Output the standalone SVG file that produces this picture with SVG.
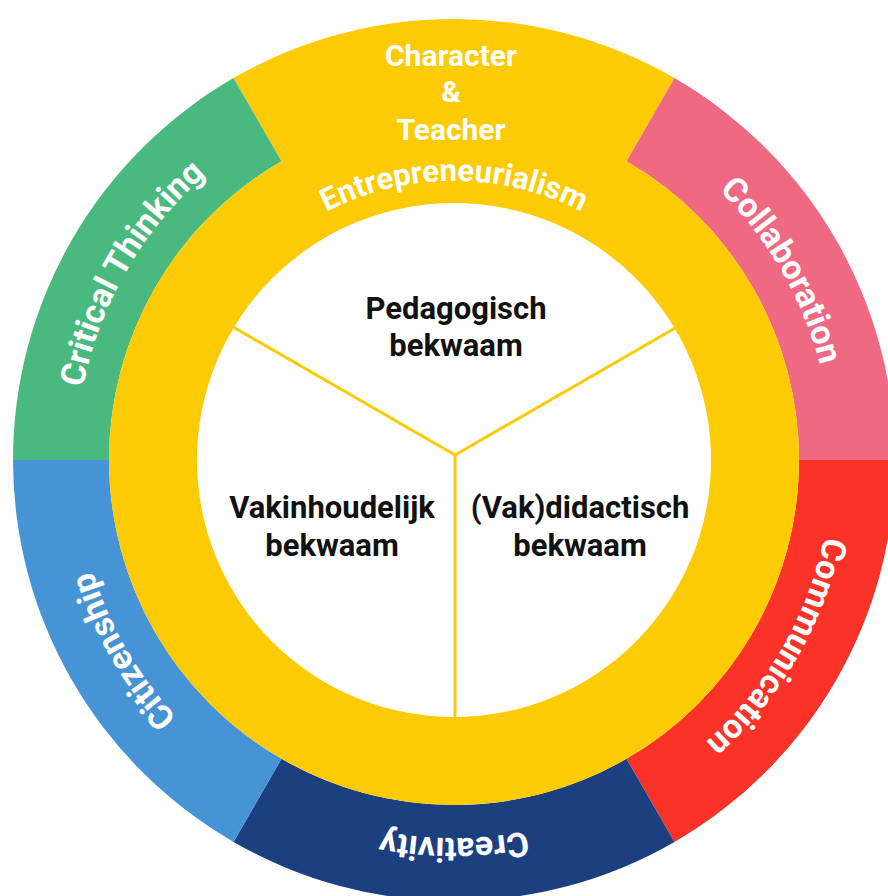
<svg xmlns="http://www.w3.org/2000/svg" width="888" height="896" viewBox="0 0 888 896">
  <style>
    .seg-label { font-family: Roboto, "Liberation Sans", Arial, sans-serif; font-weight: 700; font-size: 34px; fill: #ffffff; }
    .top-label { font-family: Roboto, "Liberation Sans", Arial, sans-serif; font-weight: 700; font-size: 30px; fill: #ffffff; text-anchor: middle; }
    .entre-label { font-family: Roboto, "Liberation Sans", Arial, sans-serif; font-weight: 700; font-size: 31px; fill: #ffffff; }
    .inner-label { font-family: Roboto, "Liberation Sans", Arial, sans-serif; font-weight: 700; font-size: 31px; fill: #111111; text-anchor: middle; }
    .divider { stroke: #FCCB04; stroke-width: 3; fill: none; }
  </style>
  <defs>
    <path id="arc-critical" d="M 211.0 749.6 A 378 378 0 0 1 583.3 104.8"/>
    <path id="arc-collab" d="M 324.7 104.8 A 378 378 0 0 1 697.0 749.6"/>
    <path id="arc-comm" d="M 697.0 170.4 A 378 378 0 0 1 324.7 815.2"/>
    <path id="arc-creat" d="M 826.3 525.6 A 378 378 0 0 1 81.7 525.6"/>
    <path id="arc-citizen" d="M 583.3 815.2 A 378 378 0 0 1 211.0 170.4"/>
    <path id="arc-entre" d="M 179.2 411.6 A 279 279 0 0 1 728.8 411.6"/>
  </defs>
  <rect width="888" height="896" fill="#ffffff"/>

  <g id="character">
    <path d="M 281.5 161.2 L 233.5 78.1 A 441 441 0 0 1 674.5 78.1 L 626.5 161.2 Z" fill="#FCCB04"/>
  </g>
  <g id="collaboration">
    <path d="M 626.5 161.2 L 674.5 78.1 A 441 441 0 0 1 895 460 L 799 460 A 345 345 0 0 0 626.5 161.2 Z" fill="#F06983"/>
    <text class="seg-label"><textPath href="#arc-collab" startOffset="50%" text-anchor="middle">Collaboration</textPath></text>
  </g>
  <g id="communication">
    <path d="M 799 460 L 895 460 A 441 441 0 0 1 674.5 841.9 L 626.5 758.8 A 345 345 0 0 0 799 460 Z" fill="#FA3228"/>
    <text class="seg-label"><textPath href="#arc-comm" startOffset="50%" text-anchor="middle">Communication</textPath></text>
  </g>
  <g id="creativity">
    <path d="M 626.5 758.8 L 674.5 841.9 A 441 441 0 0 1 233.5 841.9 L 281.5 758.8 A 345 345 0 0 0 626.5 758.8 Z" fill="#1C3F7F"/>
    <text class="seg-label"><textPath href="#arc-creat" startOffset="50%" text-anchor="middle">Creativity</textPath></text>
  </g>
  <g id="citizenship">
    <path d="M 281.5 758.8 L 233.5 841.9 A 441 441 0 0 1 13 460 L 109 460 A 345 345 0 0 0 281.5 758.8 Z" fill="#4693D5"/>
    <text class="seg-label"><textPath href="#arc-citizen" startOffset="50%" text-anchor="middle">Citizenship</textPath></text>
  </g>
  <g id="critical-thinking">
    <path d="M 109 460 L 13 460 A 441 441 0 0 1 233.5 78.1 L 281.5 161.2 A 345 345 0 0 0 109 460 Z" fill="#4AB97F"/>
    <text class="seg-label"><textPath href="#arc-critical" startOffset="50%" text-anchor="middle">Critical Thinking</textPath></text>
  </g>

  <g id="yellow-ring">
    <circle cx="454" cy="460" r="345" fill="#FCCB04"/>
    <text class="top-label" x="451" y="66">Character</text>
    <text class="top-label" x="451" y="102">&amp;</text>
    <text class="top-label" x="451" y="140">Teacher</text>
    <text class="entre-label"><textPath href="#arc-entre" startOffset="50%" text-anchor="middle">Entrepreneurialism</textPath></text>
  </g>

  <g id="core">
    <circle cx="454" cy="460" r="257" fill="#ffffff"/>
  </g>

  <g id="connectors">
    <line class="divider" x1="455" y1="455" x2="455" y2="730"/>
    <line class="divider" x1="455" y1="455" x2="221" y2="320"/>
    <line class="divider" x1="455" y1="455" x2="689" y2="320"/>
  </g>

  <g id="pedagogisch">
    <text class="inner-label" x="456" y="319">Pedagogisch</text>
    <text class="inner-label" x="456" y="356">bekwaam</text>
  </g>
  <g id="vakinhoudelijk">
    <text class="inner-label" x="332" y="518">Vakinhoudelijk</text>
    <text class="inner-label" x="332" y="556">bekwaam</text>
  </g>
  <g id="vakdidactisch">
    <text class="inner-label" x="580" y="518">(Vak)didactisch</text>
    <text class="inner-label" x="580" y="556">bekwaam</text>
  </g>
</svg>
